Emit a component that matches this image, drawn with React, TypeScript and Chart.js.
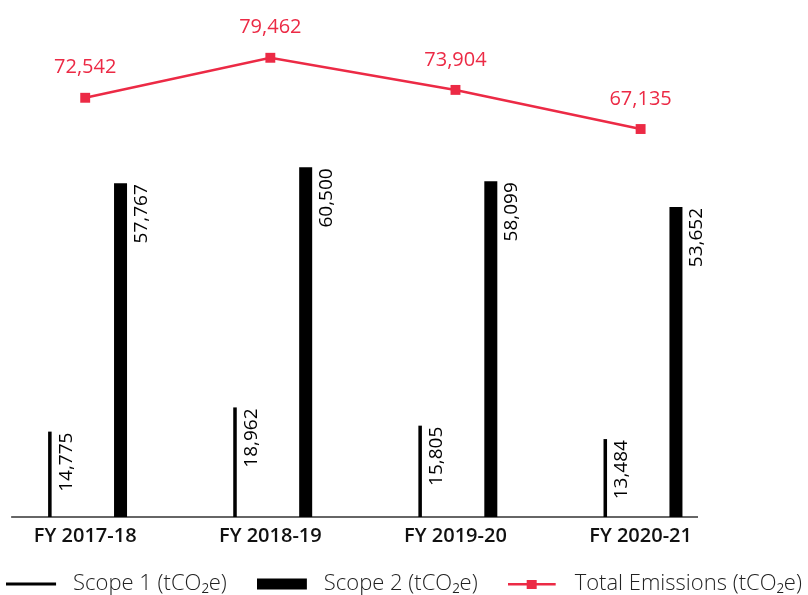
import { useEffect, useRef } from 'react';
import { Chart, registerables } from 'chart.js';

Chart.register(...registerables);

const categories = ['FY 2017-18', 'FY 2018-19', 'FY 2019-20', 'FY 2020-21'];
const scope1 = [14775, 18962, 15805, 13484];
const scope2 = [57767, 60500, 58099, 53652];
const totalEmissions = [72542, 79462, 73904, 67135];
const seriesNames = ['Scope 1 (tCO₂e)', 'Scope 2 (tCO₂e)', 'Total Emissions (tCO₂e)'];

const RED = '#EC2A45';
const FONT = "'Open Sans', 'DejaVu Sans', sans-serif";

function makeSymbol(kind: number): HTMLCanvasElement {
  const c = document.createElement('canvas');
  c.width = 56;
  c.height = 20;
  const g = c.getContext('2d')!;
  if (kind === 0) {
    g.fillStyle = '#000';
    g.fillRect(0, 8.5, 50, 3);
  } else if (kind === 1) {
    g.fillStyle = '#000';
    g.fillRect(0, 4.5, 50, 11);
  } else {
    g.fillStyle = RED;
    g.fillRect(0, 9, 48, 2.5);
    g.fillRect(19, 6, 10, 9);
  }
  return c;
}

const fmt = (v: number) => v.toLocaleString('en-US');

const barLabelPlugin = {
  id: 'barLabels',
  afterDatasetsDraw(chart: any) {
    const ctx = chart.ctx;
    ctx.save();
    [0, 1].forEach((di) => {
      const meta = chart.getDatasetMeta(di);
      const values = chart.data.datasets[di].data;
      meta.data.forEach((el: any, i: number) => {
        const v = values[i].y;
        ctx.save();
        ctx.translate(el.x + el.width / 2 + 5, el.y + 1);
        ctx.rotate(-Math.PI / 2);
        ctx.font = `500 19px ${FONT}`;
        ctx.fillStyle = '#000';
        ctx.textAlign = 'right';
        ctx.textBaseline = 'top';
        ctx.fillText(fmt(v), 0, 0);
        ctx.restore();
      });
    });
    const lm = chart.getDatasetMeta(2);
    const lv = chart.data.datasets[2].data;
    lm.data.forEach((pt: any, i: number) => {
      ctx.font = `500 20px ${FONT}`;
      ctx.fillStyle = RED;
      ctx.textAlign = 'center';
      ctx.textBaseline = 'middle';
      ctx.fillText(fmt(lv[i].y), pt.x, pt.y - 30);
    });
    ctx.restore();
  },
};

const axisLinePlugin = {
  id: 'axisLine',
  beforeDatasetsDraw(chart: any) {
    const ctx = chart.ctx;
    const xs = chart.scales.x;
    const y = chart.chartArea.bottom;
    ctx.save();
    ctx.strokeStyle = '#333';
    ctx.lineWidth = 1.5;
    ctx.beginPath();
    ctx.moveTo(xs.getPixelForValue(-0.4), y);
    ctx.lineTo(xs.getPixelForValue(3.31), y);
    ctx.stroke();
    ctx.restore();
  },
};

export default function App() {
  const ref = useRef<HTMLCanvasElement>(null);
  useEffect(() => {
    const symbols = [makeSymbol(0), makeSymbol(1), makeSymbol(2)];
    const chart = new Chart(ref.current!, {
      type: 'bar',
      data: {
        datasets: [
          {
            type: 'bar',
            label: seriesNames[0],
            data: scope1.map((v, i) => ({ x: i, y: v })),
            backgroundColor: '#000',
            categoryPercentage: 0.7635,
            barPercentage: 0.05,
            order: 2,
          },
          {
            type: 'bar',
            label: seriesNames[1],
            data: scope2.map((v, i) => ({ x: i, y: v })),
            backgroundColor: '#000',
            categoryPercentage: 0.7635,
            barPercentage: 0.184,
            order: 2,
          },
          {
            type: 'line',
            label: seriesNames[2],
            data: totalEmissions.map((v, i) => ({ x: i, y: v })),
            borderColor: RED,
            backgroundColor: RED,
            borderWidth: 2.5,
            pointStyle: 'rect',
            pointRadius: 7,
            pointBorderWidth: 0,
            order: 1,
          },
        ] as any,
      },
      options: {
        animation: false,
        responsive: false,
        maintainAspectRatio: false,
        layout: { padding: { top: 20, bottom: -10, left: -40, right: -40 } },
        scales: {
          x: {
            type: 'linear',
            offset: false,
            min: -0.4224,
            max: 3.8663,
            grid: { display: false, drawTicks: false, offset: false },
            border: { display: false },
            afterFit: (s: any) => {
              s.height = 26;
            },
            ticks: {
              stepSize: 1,
              includeBounds: false,
              autoSkip: false,
              maxRotation: 0,
              padding: 7,
              color: '#111',
              font: { family: FONT, size: 20, weight: '600' },
              callback: (v: any) => (Number.isInteger(v) && categories[v] ? categories[v] : ''),
            },
          },
          y: {
            display: false,
            min: 0,
            max: 86000,
          },
        },
        plugins: {
          tooltip: { enabled: false },
          legend: {
            position: 'bottom',
            labels: {
              usePointStyle: true,
              pointStyleWidth: 56,
              padding: 30,
              color: '#222',
              font: { family: FONT, size: 22, weight: '300' },
              generateLabels: () =>
                seriesNames.map((t, i) => ({
                  text: t,
                  pointStyle: symbols[i],
                  fillStyle: 'transparent',
                  strokeStyle: 'transparent',
                  lineWidth: 0,
                  hidden: false,
                  datasetIndex: i,
                  fontColor: '#222',
                })) as any,
            },
          },
        },
      } as any,
      plugins: [axisLinePlugin, barLabelPlugin],
    });
    return () => chart.destroy();
  }, []);
  return (
    <div style={{ position: 'absolute', left: 0, top: 0, width: 808, height: 595 }}>
      <canvas ref={ref} width={808} height={595} style={{ display: 'block', width: 808, height: 595 }} />
    </div>
  );
}
